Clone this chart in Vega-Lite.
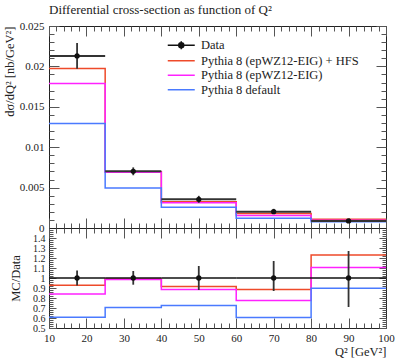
{
  "$schema": "https://vega.github.io/schema/vega-lite/v6.json",
  "padding": {"left": 2, "top": 3, "right": 5, "bottom": 5},
  "spacing": 0,
  "bounds": "flush",
  "datasets": {
    "main_mc": [
      {"series": "Pythia 8 (epWZ12-EIG) + HFS", "xlo": 10, "y": 0.01975},
      {"series": "Pythia 8 (epWZ12-EIG) + HFS", "xlo": 25, "y": 0.00695},
      {"series": "Pythia 8 (epWZ12-EIG) + HFS", "xlo": 40, "y": 0.00325},
      {"series": "Pythia 8 (epWZ12-EIG) + HFS", "xlo": 60, "y": 0.00179},
      {"series": "Pythia 8 (epWZ12-EIG) + HFS", "xlo": 80, "y": 0.00107},
      {"series": "Pythia 8 (epWZ12-EIG) + HFS", "xlo": 100, "y": 0.00107},
      {"series": "Pythia 8 (epWZ12-EIG)", "xlo": 10, "y": 0.01789},
      {"series": "Pythia 8 (epWZ12-EIG)", "xlo": 25, "y": 0.00691},
      {"series": "Pythia 8 (epWZ12-EIG)", "xlo": 40, "y": 0.00314},
      {"series": "Pythia 8 (epWZ12-EIG)", "xlo": 60, "y": 0.00156},
      {"series": "Pythia 8 (epWZ12-EIG)", "xlo": 80, "y": 0.00096},
      {"series": "Pythia 8 (epWZ12-EIG)", "xlo": 100, "y": 0.00096},
      {"series": "Pythia 8 default", "xlo": 10, "y": 0.01293},
      {"series": "Pythia 8 default", "xlo": 25, "y": 0.00496},
      {"series": "Pythia 8 default", "xlo": 40, "y": 0.00257},
      {"series": "Pythia 8 default", "xlo": 60, "y": 0.00122},
      {"series": "Pythia 8 default", "xlo": 80, "y": 0.00078},
      {"series": "Pythia 8 default", "xlo": 100, "y": 0.00078}
    ],
    "main_data": [
      {"x": 17.5, "xlo": 10, "xhi": 25, "y": 0.0213, "ylo": 0.0197, "yhi": 0.0229},
      {"x": 32.5, "xlo": 25, "xhi": 40, "y": 0.00702, "ylo": 0.00653, "yhi": 0.0075},
      {"x": 50, "xlo": 40, "xhi": 60, "y": 0.00355, "ylo": 0.00312, "yhi": 0.00398},
      {"x": 70, "xlo": 60, "xhi": 80, "y": 0.00202, "ylo": 0.00176, "yhi": 0.00237},
      {"x": 90, "xlo": 80, "xhi": 100, "y": 0.00087, "ylo": 0.00062, "yhi": 0.00111}
    ],
    "ratio_mc": [
      {"series": "Pythia 8 (epWZ12-EIG) + HFS", "xlo": 10, "r": 0.927},
      {"series": "Pythia 8 (epWZ12-EIG) + HFS", "xlo": 25, "r": 0.99},
      {"series": "Pythia 8 (epWZ12-EIG) + HFS", "xlo": 40, "r": 0.914},
      {"series": "Pythia 8 (epWZ12-EIG) + HFS", "xlo": 60, "r": 0.884},
      {"series": "Pythia 8 (epWZ12-EIG) + HFS", "xlo": 80, "r": 1.23},
      {"series": "Pythia 8 (epWZ12-EIG) + HFS", "xlo": 100, "r": 1.23},
      {"series": "Pythia 8 (epWZ12-EIG)", "xlo": 10, "r": 0.84},
      {"series": "Pythia 8 (epWZ12-EIG)", "xlo": 25, "r": 0.985},
      {"series": "Pythia 8 (epWZ12-EIG)", "xlo": 40, "r": 0.884},
      {"series": "Pythia 8 (epWZ12-EIG)", "xlo": 60, "r": 0.774},
      {"series": "Pythia 8 (epWZ12-EIG)", "xlo": 80, "r": 1.104},
      {"series": "Pythia 8 (epWZ12-EIG)", "xlo": 100, "r": 1.104},
      {"series": "Pythia 8 default", "xlo": 10, "r": 0.607},
      {"series": "Pythia 8 default", "xlo": 25, "r": 0.706},
      {"series": "Pythia 8 default", "xlo": 40, "r": 0.724},
      {"series": "Pythia 8 default", "xlo": 60, "r": 0.604},
      {"series": "Pythia 8 default", "xlo": 80, "r": 0.897},
      {"series": "Pythia 8 default", "xlo": 100, "r": 0.897}
    ],
    "ratio_data": [
      {"x": 17.5, "xlo": 10, "xhi": 25, "r": 1, "rlo": 0.925, "rhi": 1.075},
      {"x": 32.5, "xlo": 25, "xhi": 40, "r": 1, "rlo": 0.933, "rhi": 1.07},
      {"x": 50, "xlo": 40, "xhi": 60, "r": 1, "rlo": 0.88, "rhi": 1.12},
      {"x": 70, "xlo": 60, "xhi": 80, "r": 1, "rlo": 0.87, "rhi": 1.17},
      {"x": 90, "xlo": 80, "xhi": 100, "r": 1, "rlo": 0.71, "rhi": 1.27}
    ]
  },
  "vconcat": [
    {
      "width": 337,
      "height": 202,
      "title": {"text": "Differential cross-section as function of Q²", "anchor": "start", "frame": "group", "font": "Liberation Serif", "fontSize": 13, "fontWeight": "normal", "color": "#222", "offset": 3},
      "resolve": {"axis": {"x": "independent", "y": "independent"}},
      "layer": [
        {
          "data": {"name": "main_mc"},
          "mark": {"type": "line", "interpolate": "step-after", "strokeWidth": 1.5},
          "encoding": {
            "x": {"field": "xlo", "type": "quantitative", "scale": {"domain": [10, 100], "nice": false, "zero": false},
                  "axis": {"orient": "bottom", "values": [10, 20, 30, 40, 50, 60, 70, 80, 90, 100], "tickSize": -10, "labels": false, "title": null}},
            "y": {"field": "y", "type": "quantitative", "scale": {"domain": [0, 0.025], "nice": false, "zero": false},
                  "axis": {"orient": "left", "values": [0, 0.005, 0.01, 0.015, 0.02, 0.025], "format": "~g", "tickSize": -10, "labelPadding": 15, "labelOverlap": false, "title": "dσ/dQ² [nb/GeV²]", "titleAnchor": "end", "titlePadding": 3}},
            "color": {"field": "series", "type": "nominal",
                      "scale": {"domain": ["Data", "Pythia 8 (epWZ12-EIG) + HFS", "Pythia 8 (epWZ12-EIG)", "Pythia 8 default"], "range": ["#111111", "#ee4a2a", "#ff22ff", "#4a7aff"]},
                      "legend": {
                        "orient": "none", "legendX": 126, "legendY": 13, "title": null,
                        "symbolSize": 100, "symbolStrokeWidth": 1.5,
                        "labelFont": "Liberation Serif", "labelFontSize": 12.5, "labelColor": "#222",
                        "labelOffset": 13.5, "rowPadding": 1.5,
                        "encode": {"symbols": {"update": {
                          "shape": {"signal": "datum.value === 'Data' ? 'M-2.7,0H2.7M0,-0.8V0.8M-0.5,0A0.5,0.5 0 1,1 0.5,0A0.5,0.5 0 1,1 -0.5,0Z' : 'M-2.7,0H2.7'"},
                          "fill": {"signal": "datum.value === 'Data' ? '#111' : 'transparent'"}
                        }}}
                      }}
          }
        },
        {
          "data": {"name": "main_data"},
          "mark": {"type": "rule", "color": "#333", "strokeWidth": 1.8},
          "encoding": {
            "x": {"field": "x", "type": "quantitative",
                  "axis": {"orient": "bottom", "values": [12, 14, 16, 18, 22, 24, 26, 28, 32, 34, 36, 38, 42, 44, 46, 48, 52, 54, 56, 58, 62, 64, 66, 68, 72, 74, 76, 78, 82, 84, 86, 88, 92, 94, 96, 98], "tickSize": -5, "labels": false, "title": null}},
            "y": {"field": "ylo", "type": "quantitative",
                  "axis": {"orient": "left", "values": [0.001, 0.002, 0.003, 0.004, 0.006, 0.007, 0.008, 0.009, 0.011, 0.012, 0.013, 0.014, 0.016, 0.017, 0.018, 0.019, 0.021, 0.022, 0.023, 0.024], "tickSize": -5, "labels": false, "title": null}},
            "y2": {"field": "yhi"}
          }
        },
        {
          "data": {"name": "main_data"},
          "mark": {"type": "rule", "color": "#333", "strokeWidth": 2},
          "encoding": {
            "x": {"field": "xlo", "type": "quantitative",
                  "axis": {"orient": "top", "values": [10, 20, 30, 40, 50, 60, 70, 80, 90, 100], "tickSize": -10, "labels": false, "title": null}},
            "x2": {"field": "xhi"},
            "y": {"field": "y", "type": "quantitative",
                  "axis": {"orient": "right", "values": [0, 0.005, 0.01, 0.015, 0.02, 0.025], "tickSize": -10, "labels": false, "title": null}}
          }
        },
        {
          "data": {"name": "main_data"},
          "mark": {"type": "point", "filled": true, "size": 28, "color": "#111", "opacity": 1},
          "encoding": {
            "x": {"field": "x", "type": "quantitative",
                  "axis": {"orient": "top", "values": [12, 14, 16, 18, 22, 24, 26, 28, 32, 34, 36, 38, 42, 44, 46, 48, 52, 54, 56, 58, 62, 64, 66, 68, 72, 74, 76, 78, 82, 84, 86, 88, 92, 94, 96, 98], "tickSize": -5, "labels": false, "title": null}},
            "y": {"field": "y", "type": "quantitative",
                  "axis": {"orient": "right", "values": [0.001, 0.002, 0.003, 0.004, 0.006, 0.007, 0.008, 0.009, 0.011, 0.012, 0.013, 0.014, 0.016, 0.017, 0.018, 0.019, 0.021, 0.022, 0.023, 0.024], "tickSize": -5, "labels": false, "title": null}}
          }
        }
      ]
    },
    {
      "width": 337,
      "height": 100,
      "resolve": {"axis": {"x": "independent", "y": "independent"}},
      "layer": [
        {
          "data": {"name": "ratio_mc"},
          "mark": {"type": "line", "interpolate": "step-after", "strokeWidth": 1.5},
          "encoding": {
            "x": {"field": "xlo", "type": "quantitative", "scale": {"domain": [10, 100], "nice": false, "zero": false},
                  "axis": {"orient": "bottom", "values": [10, 20, 30, 40, 50, 60, 70, 80, 90, 100], "tickSize": -10, "labelPadding": 14, "labelOverlap": false, "title": "Q² [GeV²]", "titleAnchor": "end", "titlePadding": 2}},
            "y": {"field": "r", "type": "quantitative", "scale": {"domain": [0.5, 1.5], "nice": false, "zero": false},
                  "axis": {"orient": "left", "values": [0.5, 0.6, 0.7, 0.8, 0.9, 1, 1.1, 1.2, 1.3, 1.4], "format": "~g", "tickSize": -7, "labelPadding": 11, "labelFontSize": 10, "labelOverlap": false, "title": "MC/Data", "titlePadding": 10}},
            "color": {"field": "series", "type": "nominal", "legend": null}
          }
        },
        {
          "data": {"name": "ratio_data"},
          "mark": {"type": "rule", "color": "#333", "strokeWidth": 1.8},
          "encoding": {
            "x": {"field": "x", "type": "quantitative",
                  "axis": {"orient": "bottom", "values": [12, 14, 16, 18, 22, 24, 26, 28, 32, 34, 36, 38, 42, 44, 46, 48, 52, 54, 56, 58, 62, 64, 66, 68, 72, 74, 76, 78, 82, 84, 86, 88, 92, 94, 96, 98], "tickSize": -5, "labels": false, "title": null}},
            "y": {"field": "rlo", "type": "quantitative",
                  "axis": {"orient": "left", "values": [0.52, 0.54, 0.56, 0.58, 0.62, 0.64, 0.66, 0.68, 0.72, 0.74, 0.76, 0.78, 0.82, 0.84, 0.86, 0.88, 0.92, 0.94, 0.96, 0.98, 1.02, 1.04, 1.06, 1.08, 1.12, 1.14, 1.16, 1.18, 1.22, 1.24, 1.26, 1.28, 1.32, 1.34, 1.36, 1.38, 1.42, 1.44, 1.46, 1.48], "tickSize": -4, "labels": false, "title": null}},
            "y2": {"field": "rhi"}
          }
        },
        {
          "data": {"name": "ratio_data"},
          "mark": {"type": "rule", "color": "#111", "strokeWidth": 1.6},
          "encoding": {
            "x": {"field": "xlo", "type": "quantitative",
                  "axis": {"orient": "top", "values": [10, 20, 30, 40, 50, 60, 70, 80, 90, 100], "tickSize": -10, "labels": false, "title": null}},
            "x2": {"field": "xhi"},
            "y": {"field": "r", "type": "quantitative",
                  "axis": {"orient": "right", "values": [0.5, 0.6, 0.7, 0.8, 0.9, 1, 1.1, 1.2, 1.3, 1.4], "tickSize": -7, "labels": false, "title": null}}
          }
        },
        {
          "data": {"name": "ratio_data"},
          "mark": {"type": "point", "filled": true, "size": 28, "color": "#111", "opacity": 1},
          "encoding": {
            "x": {"field": "x", "type": "quantitative",
                  "axis": {"orient": "top", "values": [12, 14, 16, 18, 22, 24, 26, 28, 32, 34, 36, 38, 42, 44, 46, 48, 52, 54, 56, 58, 62, 64, 66, 68, 72, 74, 76, 78, 82, 84, 86, 88, 92, 94, 96, 98], "tickSize": -5, "labels": false, "title": null}},
            "y": {"field": "r", "type": "quantitative",
                  "axis": {"orient": "right", "values": [0.52, 0.54, 0.56, 0.58, 0.62, 0.64, 0.66, 0.68, 0.72, 0.74, 0.76, 0.78, 0.82, 0.84, 0.86, 0.88, 0.92, 0.94, 0.96, 0.98, 1.02, 1.04, 1.06, 1.08, 1.12, 1.14, 1.16, 1.18, 1.22, 1.24, 1.26, 1.28, 1.32, 1.34, 1.36, 1.38, 1.42, 1.44, 1.46, 1.48], "tickSize": -4, "labels": false, "title": null}}
          }
        }
      ]
    }
  ],
  "config": {
    "view": {"stroke": "#222", "strokeWidth": 1},
    "axis": {"domain": false, "grid": false, "tickColor": "#555", "tickWidth": 1, "labelFlush": false,
             "labelFont": "Liberation Serif", "labelFontSize": 11, "labelColor": "#222",
             "titleFont": "Liberation Serif", "titleFontSize": 12.5, "titleFontWeight": "normal", "titleColor": "#222"}
  }
}
